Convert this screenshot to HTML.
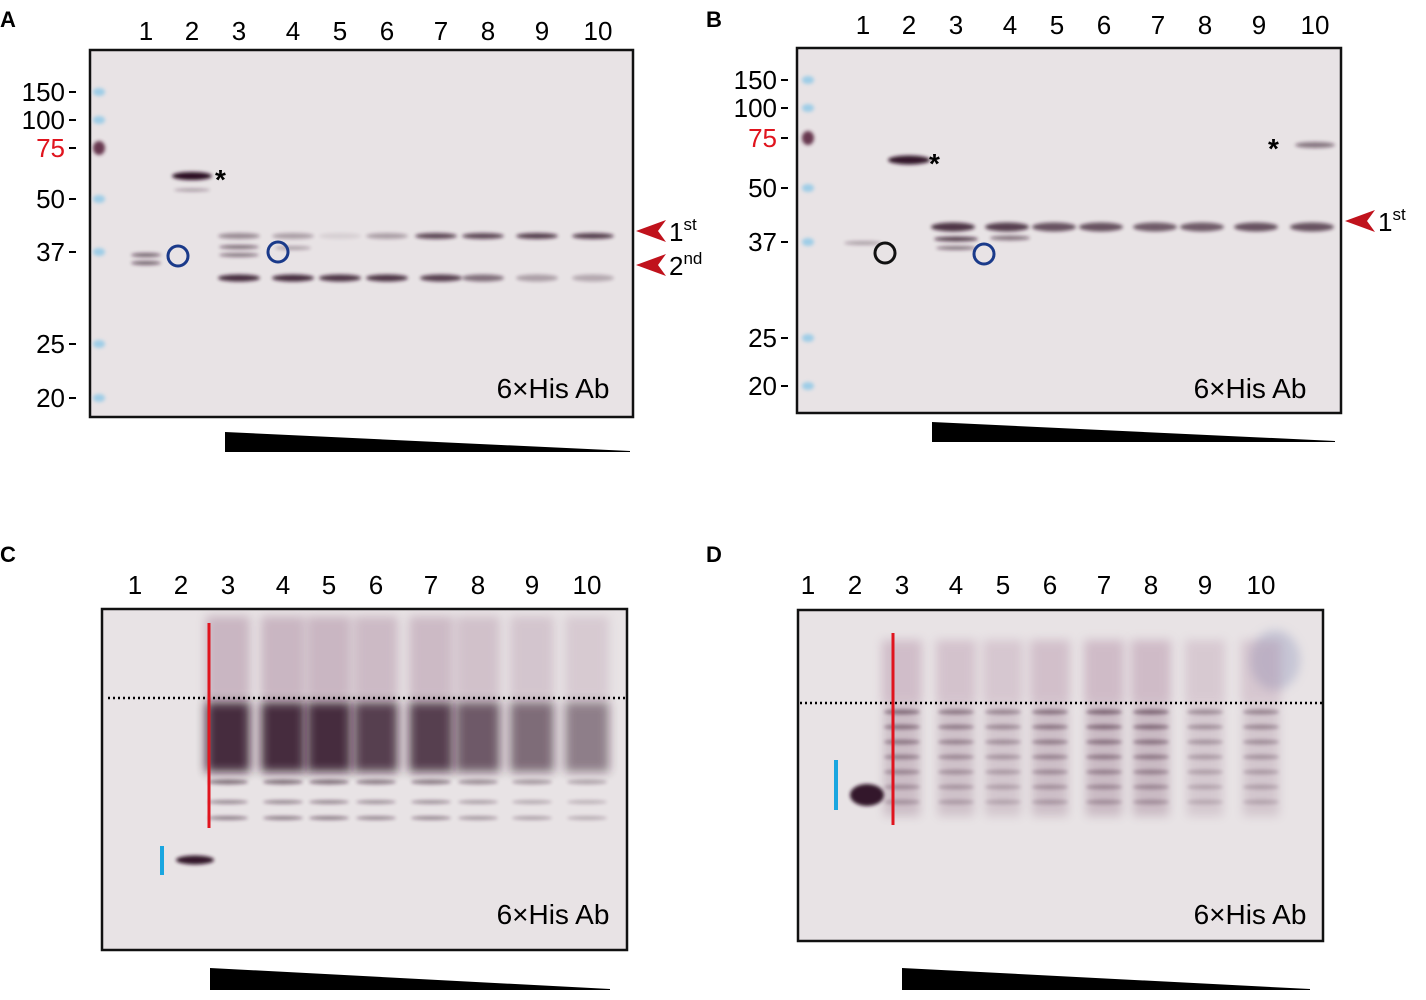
<!DOCTYPE html>
<html><head><meta charset="utf-8"><style>
html,body{margin:0;padding:0;background:#fff;}
svg{display:block;font-family:"Liberation Sans",sans-serif;}
</style></head><body>
<svg id="fig" width="1426" height="1000" viewBox="0 0 1426 1000" xmlns="http://www.w3.org/2000/svg">
<defs>
<filter id="blur2" x="-50%" y="-200%" width="200%" height="500%"><feGaussianBlur stdDeviation="1.8"/></filter>
<filter id="blur6" x="-50%" y="-50%" width="200%" height="200%"><feGaussianBlur stdDeviation="5"/></filter>
</defs>
</svg>
<script>
// ---- data ----
const laneLabels = ['1','2','3','4','5','6','7','8','9','10'];
const laneXA = [146,192,239,293,340,387,441,488,542,598];
const laneXB = [863,909,956,1010,1057,1104,1158,1205,1259,1315];
const laneXC = [135,181,228,283,329,376,431,478,532,587];
const laneXD = [808,855,902,956,1003,1050,1104,1151,1205,1261];
const mwLabels = ['150','100','75','50','37','25','20'];
const mwYA = [92,120,148,199,252,344,398];
const mwYB = [80,108,138,188,242,338,386];
const secondBandA = [0,0,0.95,0.95,0.9,0.9,0.85,0.6,0.35,0.3];
const firstBandA = [0,0,0.45,0.35,0.1,0.35,0.8,0.8,0.85,0.85];
const firstBandB = [0.2,0,0.9,0.85,0.75,0.75,0.7,0.7,0.75,0.75];
const smearC = [0,0,1,1,1,0.9,0.9,0.75,0.65,0.55];
const smearD = [0,0,0.8,0.7,0.6,0.75,0.85,0.85,0.55,0.6];

const NS='http://www.w3.org/2000/svg';
const svg=document.getElementById('fig');
function el(tag,attrs,parent){const e=document.createElementNS(NS,tag);for(const k in attrs)e.setAttribute(k,attrs[k]);(parent||svg).appendChild(e);return e;}
function txt(x,y,s,size,opts,parent){const t=el('text',Object.assign({x:x,y:y,'font-size':size,fill:'#000'},opts||{}),parent);t.textContent=s;return t;}

function panel(name,letter,lx,ly,box,laneX,laneY){
  const g=el('g',{});
  
  
  const L=txt(lx,ly,letter,22,{'font-weight':'bold'},g);
  
  
  const r=el('rect',{x:box[0],y:box[1],width:box[2]-box[0],height:box[3]-box[1],fill:'#e8e3e5',stroke:'#111','stroke-width':2.5},g);
  
  
  laneX.forEach((x,i)=>{
    const t=txt(x,laneY,laneLabels[i],26,{'text-anchor':'middle'},g);
    
    
  });
  return g;
}
function band(g,x,y,w,h,op,color){
  const e=el('ellipse',{cx:x,cy:y,rx:w/2,ry:h/2,fill:color||'#2b0e22',opacity:op,filter:'url(#blur2)'},g);
  
  
  return e;
}
function mw(g,labels,ys,xr,ladderX,darkIdx){
  labels.forEach((s,i)=>{
    const t=txt(xr,ys[i]+9,s,26,{'text-anchor':'end',fill:i===2?'#e0141e':'#000'},g);
    
    
    el('line',{x1:xr+4,y1:ys[i],x2:xr+11,y2:ys[i],stroke:'#000','stroke-width':2},g);
    const m=el('ellipse',{cx:ladderX,cy:ys[i],rx:6,ry:i===darkIdx?7:4,fill:i===darkIdx?'#5a2840':'#7fc4e8',opacity:i===darkIdx?0.9:0.7,filter:'url(#blur2)'},g);
    
    
  });
}
function wedge(g,x1,x2,y1,y2){
  const p=el('polygon',{points:`${x1},${y1} ${x2},${y2-1} ${x2},${y2} ${x1},${y2}`,fill:'#000'},g);
  
  
}
function circle(g,x,y,c){const e=el('circle',{cx:x,cy:y,r:10,fill:'none',stroke:c,'stroke-width':3},g);}
function arrow(g,x,y,lab,sup){
  const p=el('polygon',{points:`${x},${y} ${x+30},${y-11} ${x+22},${y} ${x+30},${y+11}`,fill:'#c0121c'},g);
  
  
  const t=txt(x+33,y+10,lab,26,{},g);
  const ts=document.createElementNS(NS,'tspan');ts.setAttribute('font-size','17');ts.setAttribute('dy','-11');ts.textContent=sup;t.appendChild(ts);
  
  
}
function star(g,x,y){const t=txt(x,y,'*',28,{'font-weight':'bold'},g);}
function abLabel(g,x,y){const t=txt(x,y,'6×His Ab',28,{'text-anchor':'middle'},g);}

// ---- Panel A ----
const gA=panel('a','A',0,27,[90,50,633,417],laneXA,40);
mw(gA,mwLabels,mwYA,65,99,2);
band(gA,laneXA[0],255,30,4,0.6);band(gA,laneXA[0],263,30,4,0.6);
band(gA,laneXA[1],176,40,8,1);band(gA,laneXA[1],190,36,3,0.35);
band(gA,laneXA[2],247,40,4,0.55);band(gA,laneXA[2],255,40,4,0.5);
band(gA,laneXA[3],248,36,4,0.3);
secondBandA.forEach((v,i)=>{if(v>0)band(gA,laneXA[i]-(i>=7?5:0),278,42,7,v*0.9);});
firstBandA.forEach((v,i)=>{if(v>0)band(gA,laneXA[i]-(i>=6?5:0),236,42,6,v*0.9);});
circle(gA,178,256,'#1a3a8a');circle(gA,278,252,'#1a3a8a');
star(gA,215,189);
arrow(gA,636,231,'1','st');arrow(gA,636,265,'2','nd');
abLabel(gA,553,398);
wedge(gA,225,630,432,452);

// ---- Panel B ----
const gB=panel('b','B',706,27,[797,48,1341,413],laneXB,34);
mw(gB,mwLabels,mwYB,777,808,2);
band(gB,laneXB[0],243,38,4,0.3);
band(gB,laneXB[1],160,42,9,0.95);
band(gB,laneXB[9],145,40,6,0.5);
firstBandB.forEach((v,i)=>{if(v>0&&i>0)band(gB,laneXB[i]-3,227,44,9,v*0.9);});
band(gB,laneXB[2],239,44,5,0.75);band(gB,laneXB[2],248,40,4,0.5);
band(gB,laneXB[3],238,40,5,0.5);
circle(gB,885,253,'#111');circle(gB,984,254,'#1a3a8a');
star(gB,929,173);star(gB,1268,158);
arrow(gB,1345,221,'1','st');
abLabel(gB,1250,398);
wedge(gB,932,1335,422,442);

// ---- Panel C ----
const gC=panel('c','C',0,562,[102,609,627,950],laneXC,594);
smearC.forEach((v,i)=>{
  if(v<=0)return;const x=laneXC[i];
  const s=el('rect',{x:x-22,y:616,width:44,height:84,fill:'#8c5c7c',opacity:v*0.33,filter:'url(#blur6)'},gC);
  
  const d=el('rect',{x:x-22,y:702,width:44,height:70,fill:'#2a0e22',opacity:v*0.85,filter:'url(#blur6)'},gC);
  
  band(gC,x,782,40,5,v*0.5);band(gC,x,802,40,4,v*0.4);band(gC,x,818,40,4,v*0.45);
});
band(gC,195,860,38,9,0.95);
el('line',{x1:108,y1:698,x2:625,y2:698,stroke:'#000','stroke-width':2.5,'stroke-dasharray':'2 3'},gC);
el('line',{x1:209,y1:623,x2:209,y2:828,stroke:'#e0141e','stroke-width':3},gC);
el('line',{x1:162,y1:846,x2:162,y2:875,stroke:'#1aa6e0','stroke-width':4},gC);
abLabel(gC,553,924);
wedge(gC,210,610,968,990);

// ---- Panel D ----
const gD=panel('d','D',706,562,[798,610,1323,941],laneXD,594);
const speck=el('ellipse',{cx:1275,cy:660,rx:25,ry:30,fill:'#8890b8',opacity:0.35,filter:'url(#blur6)'},gD);

smearD.forEach((v,i)=>{
  if(v<=0)return;const x=laneXD[i];
  const s=el('rect',{x:x-20,y:640,width:40,height:64,fill:'#a0708f',opacity:v*0.4,filter:'url(#blur6)'},gD);
  
  for(let k=0;k<7;k++)band(gD,x,712+k*15,36,5,v*(0.6-k*0.05));
  const d=el('rect',{x:x-18,y:706,width:36,height:110,fill:'#6a3a5a',opacity:v*0.28,filter:'url(#blur6)'},gD);
  
});
band(gD,laneXD[1]+12,795,34,22,0.95);
el('line',{x1:800,y1:703,x2:1322,y2:703,stroke:'#000','stroke-width':2.5,'stroke-dasharray':'2 3'},gD);
el('line',{x1:893,y1:633,x2:893,y2:825,stroke:'#e0141e','stroke-width':3},gD);
el('line',{x1:836,y1:760,x2:836,y2:810,stroke:'#1aa6e0','stroke-width':4},gD);
abLabel(gD,1250,924);
wedge(gD,902,1310,968,990);
</script>
</body></html>
